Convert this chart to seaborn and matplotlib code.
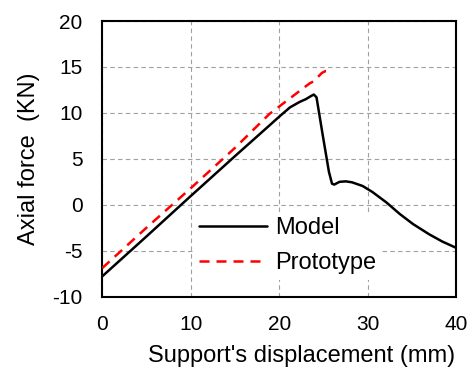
import matplotlib
matplotlib.use("Agg")
import matplotlib.pyplot as plt
import seaborn as sns
import pandas as pd

# Axial force vs. support displacement
model_x = [0, 5, 10, 15, 18.9, 20.0, 21.2, 22.3, 23.0, 23.6, 23.9, 24.2, 24.9, 25.6,
           25.95, 26.2, 26.8, 27.5, 28.2, 29.4, 30.5, 32.1, 33.6, 35.1, 36.9, 38.4, 40]
model_y = [-7.8, -3.45, 0.95, 5.3, 8.65, 9.6, 10.6, 11.2, 11.5, 11.85, 12.0, 11.7, 7.6, 3.6,
           2.3, 2.2, 2.5, 2.55, 2.45, 2.05, 1.4, 0.25, -1.0, -2.1, -3.2, -4.0, -4.7]
proto_x = [0, 5, 10, 15, 18.9, 20.4, 21.9, 23.4, 23.9, 24.35, 24.8, 25.2, 26.0]
proto_y = [-6.9, -2.5, 1.8, 6.2, 9.9, 11.0, 12.1, 13.2, 13.45, 13.9, 14.35, 14.55, 14.6]

x_ticks = [0, 10, 20, 30, 40]
y_ticks = [-10, -5, 0, 5, 10, 15, 20]

sns.set_theme(style="white")
plt.rcParams["font.family"] = ["Liberation Sans", "DejaVu Sans"]
plt.rcParams["axes.unicode_minus"] = False
plt.rcParams["axes.labelcolor"] = "black"
plt.rcParams["text.color"] = "black"

LABEL_FS = 17
TICK_FS = 15

fig = plt.figure(figsize=(4.75, 3.76), dpi=100)
ax = fig.add_axes([0.215, 0.211, 0.746, 0.733])

model = pd.DataFrame({"x": model_x, "y": model_y})
proto = pd.DataFrame({"x": proto_x, "y": proto_y})

sns.lineplot(data=model, x="x", y="y", ax=ax, color="black", lw=1.8,
             sort=False, label="Model", zorder=3)
sns.lineplot(data=proto, x="x", y="y", ax=ax, color="#ff0000", lw=1.8,
             sort=False, label="Prototype", zorder=3)
ax.lines[1].set_dashes((4, 2.8))

ax.set_xlim(0, 40)
ax.set_ylim(-10, 20)
ax.set_xticks(x_ticks)
ax.set_yticks(y_ticks)
ax.grid(True, color="#a0a0a0", linestyle=(0, (4, 3)), linewidth=0.8)
ax.set_axisbelow(True)

for s in ax.spines.values():
    s.set_color("black")
    s.set_linewidth(1.5)

ax.tick_params(axis="both", direction="in", length=5, width=1, labelsize=TICK_FS,
               colors="black")
ax.tick_params(axis="y", pad=14)
ax.tick_params(axis="x", pad=13)

ax.set_xlabel("Support's displacement (mm)", fontsize=LABEL_FS, color="black")
ax.xaxis.set_label_coords(0.5625, -0.175)
ax.set_ylabel("Axial force  (KN)", fontsize=LABEL_FS, labelpad=9, color="black")

leg = ax.legend(loc="center", bbox_to_anchor=(0.523, 0.184), frameon=True,
                fontsize=LABEL_FS, handlelength=2.9, handletextpad=0.34,
                labelspacing=0.55, borderpad=0.25)
leg.get_frame().set_facecolor("white")
leg.get_frame().set_edgecolor("none")
leg.get_frame().set_alpha(1)
leg.get_lines()[1].set_dashes((4, 2.8))

fig.savefig("out.png", dpi=100)
